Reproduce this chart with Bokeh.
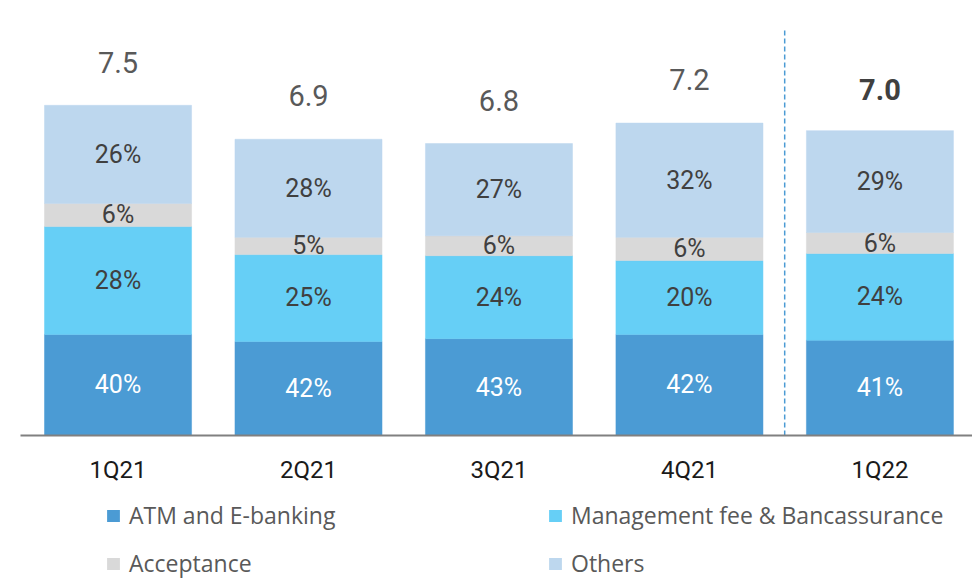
from bokeh.plotting import figure
from bokeh.models import ColumnDataSource, Range1d, FixedTicker, Legend, LegendItem
from bokeh.layouts import column
from bokeh.core.properties import value
from bokeh.embed import file_html
from bokeh.resources import INLINE

# ---------------- data ----------------
categories = ["1Q21", "2Q21", "3Q21", "4Q21", "1Q22"]
totals = [7.5, 6.9, 6.8, 7.2, 7.0]
total_labels = ["7.5", "6.9", "6.8", "7.2", "7.0"]

# segment sizes (same units as totals)
atm = [3.26, 3.13, 3.18, 3.26, 3.15]
mgmt = [2.00, 1.61, 1.54, 1.37, 1.61]
acceptance = [0.43, 0.32, 0.37, 0.43, 0.39]
others = [1.82, 1.82, 1.71, 2.12, 1.89]

# printed shares
atm_pct = ["40%", "42%", "43%", "42%", "41%"]
mgmt_pct = ["28%", "25%", "24%", "20%", "24%"]
acc_pct = ["6%", "5%", "6%", "6%", "6%"]
oth_pct = ["26%", "28%", "27%", "32%", "29%"]

series_names = ["ATM and E-banking", "Management fee & Bancassurance", "Acceptance", "Others"]

# ---------------- styles ----------------
COLORS = ["#4B9BD4", "#66CFF6", "#D9D9D9", "#BDD7EE"]
FONT = "Roboto"
LEGEND_FONT = "Open Sans"
Y_START, Y_END = 1.384, 9.306

xs = list(range(len(categories)))
src = ColumnDataSource(dict(x=xs, atm=atm, mgmt=mgmt, acc=acceptance, oth=others))

p = figure(
    frame_width=952, frame_height=427,
    min_border_left=20, min_border_right=0, min_border_top=8, min_border_bottom=60,
    x_range=Range1d(-0.512, 4.486), y_range=Range1d(Y_START, Y_END),
    y_axis_location=None, toolbar_location=None, output_backend="svg",
)
p.outline_line_color = None
p.grid.visible = False
p.background_fill_color = "white"

rends = p.vbar_stack(["atm", "mgmt", "acc", "oth"], x="x", width=0.772, color=COLORS,
                     line_color=COLORS, line_width=0.5, source=src)

# percentage labels at the centres of the visible segments
stacks = [atm, mgmt, acceptance, others]
pct_lists = [atm_pct, mgmt_pct, acc_pct, oth_pct]
lx, ly, lt, lc = [], [], [], []
for i in xs:
    base = 0.0
    for s, (vals, labs) in enumerate(zip(stacks, pct_lists)):
        top = base + vals[i]
        lo = max(base, Y_START)
        lx.append(i)
        ly.append((lo + top) / 2.0)
        lt.append(labs[i])
        lc.append("white" if s == 0 else "#404040")
        base = top
lsrc = ColumnDataSource(dict(x=lx, y=ly, t=lt, c=lc))
p.text(x="x", y="y", text="t", source=lsrc, text_color="c", text_align="center",
       text_baseline="middle", text_font=value(FONT), text_font_size="25px")

# totals above bars
tstyle = ["normal"] * (len(categories) - 1) + ["bold"]
tcolor = ["#595959"] * (len(categories) - 1) + ["#404040"]
tsrc = ColumnDataSource(dict(x=xs, y=totals, t=total_labels, s=tstyle, c=tcolor))
p.text(x="x", y="y", text="t", source=tsrc, y_offset=-43, text_align="center",
       text_baseline="middle", text_font=value(FONT), text_font_size="29px",
       text_color="c", text_font_style="s")

# dashed divider before the latest quarter
div_x = len(categories) - 1.5
p.segment(x0=[div_x], y0=[Y_START], x1=[div_x], y1=[8.92], line_color="#4B9BD4",
          line_width=1.5, line_dash="5 3")

# x axis
ax = p.xaxis[0]
ax.ticker = FixedTicker(ticks=xs)
ax.major_label_overrides = {i: c for i, c in enumerate(categories)}
ax.major_tick_line_color = None
ax.minor_tick_line_color = None
ax.major_tick_out = 0
ax.minor_tick_out = 0
ax.axis_line_color = "#808080"
ax.axis_line_width = 2
ax.major_label_standoff = 20
ax.major_label_text_font = FONT
ax.major_label_text_font_size = "24px"
ax.major_label_text_color = "#1A1A1A"

# ---------------- legend strip ----------------
lg = figure(
    width=972, height=84, min_border=0, x_axis_location=None, y_axis_location=None,
    x_range=Range1d(0, 1), y_range=Range1d(0, 1),
    toolbar_location=None, output_backend="svg",
)
lg.outline_line_color = None
lg.grid.visible = False
# zero-size swatch renderers (only their legend glyphs show)
swatches = [lg.vbar(x=[0], top=[0], bottom=[0], width=0, fill_color=c, line_color=None)
            for c in COLORS]

legend = Legend(
    items=[LegendItem(label=n, renderers=[r]) for n, r in zip(series_names, swatches)],
    orientation="horizontal", ncols=2, location=(85, 0), margin=0, padding=0,
    spacing=16, label_width=402, label_standoff=8, glyph_width=16, glyph_height=15,
    label_text_font=LEGEND_FONT, label_text_font_size="23px", label_text_color="#595959",
    border_line_color=None, background_fill_alpha=0,
)
lg.add_layout(legend)

layout = column(p, lg, spacing=0)
open("out.html", "w").write(file_html(layout, INLINE))
